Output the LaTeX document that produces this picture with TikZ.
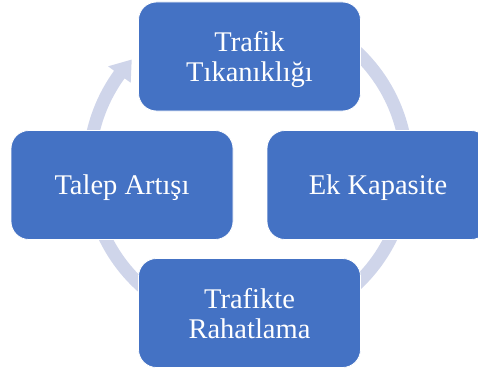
\documentclass[tikz,border=0pt]{standalone}
\usepackage{fontspec}
\setmainfont{Liberation Serif}
\usetikzlibrary{calc}
\definecolor{boxblue}{RGB}{68,114,196}
\definecolor{ringcol}{RGB}{207,213,234}
\tikzset{
  cyclebox/.style={draw=white, line width=0.8pt, fill=boxblue, rounded corners=18pt,
    minimum width=222pt, minimum height=109pt, inner sep=0pt,
    text=white, align=center, font=\fontsize{28.5}{30}\selectfont, text depth=0pt},
  ringfill/.style={fill=ringcol}
}
\begin{document}
\begin{tikzpicture}[x=1pt,y=1pt]
\clip (0,0) rectangle (478,373);
\coordinate (c) at (248,205);
% ring with arrowhead
\fill[ringfill] ($(c)+(60:165.5)$) arc[start angle=60, end angle=-216, radius=165.5]
  -- ($(c)+(144:173)$) -- ($(c)+(137:159)$) -- ($(c)+(144:145)$)
  -- ($(c)+(144:152.5)$) arc[start angle=-216, end angle=60, radius=152.5] -- cycle;
% boxes
\node[cyclebox] (top) at (249.5,316.5) {Trafik\\Tıkanıklığı};
\node[cyclebox] (left) at (122,188) {Talep Artışı};
\node[cyclebox] (right) at (378,188) {Ek Kapasite};
\node[cyclebox] (bottom) at (249.5,60) {Trafikte\\Rahatlama};
\end{tikzpicture}
\end{document}
